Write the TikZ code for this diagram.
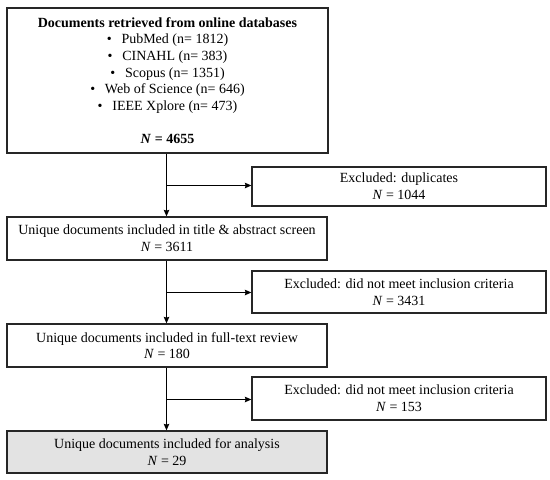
\documentclass[tikz,border=0pt]{standalone}
\usepackage{fontspec}
\setmainfont{Liberation Serif}
\usetikzlibrary{arrows.meta}
\begin{document}
\begin{tikzpicture}[x=1pt,y=-1pt,
  box/.style={draw=black!85, line width=1.3pt, align=center, inner sep=0pt,
    font=\fontsize{14}{16.6}\selectfont, minimum width=#1},
  box/.default=320pt,
  flow/.style={line width=1pt, -{Stealth[length=6.5pt,width=5.5pt,inset=0.8pt]}}]
\useasboundingbox (0,0) rectangle (550,480);
\newcommand{\bl}{\textbullet\hspace{0.7em}}
\node[box=321pt, minimum height=145pt] (src) at (167.5,80.5)
  {\textbf{Documents retrieved from online databases}\\
   \bl PubMed (n= 1812)\\
   \bl CINAHL (n= 383)\\
   \bl Scopus (n= 1351)\\
   \bl Web of Science (n= 646)\\
   \bl IEEE Xplore (n= 473)\\[16.6pt]
   \textbf{\textit{N} = 4655}};
\node[box=294pt, minimum height=39pt] (ex1) at (399,186.5)
  {Excluded: duplicates\\\textit{N} = 1044};
\node[box, minimum height=43pt] (ta) at (167,238.5)
  {Unique documents included in title \& abstract screen\\\textit{N} = 3611};
\node[box=294pt, minimum height=42pt] (ex2) at (399,292)
  {Excluded: did not meet inclusion criteria\\\textit{N} = 3431};
\node[box, minimum height=43pt] (ft) at (167,345.5)
  {Unique documents included in full-text review\\\textit{N} = 180};
\node[box=294pt, minimum height=43pt] (ex3) at (399,398.5)
  {Excluded: did not meet inclusion criteria\\\textit{N} = 153};
\node[box, minimum height=42pt, fill=black!11] (an) at (167,452)
  {Unique documents included for analysis\\\textit{N} = 29};
\coordinate (b1) at (166.5,185.5);
\coordinate (b2) at (166.5,292.5);
\coordinate (b3) at (166.5,399.5);
\draw[flow] (src.south -| b1) -- (ta.north -| b1);
\draw[flow] (b1) -- (ex1.west |- b1);
\draw[flow] (ta.south -| b2) -- (ft.north -| b2);
\draw[flow] (b2) -- (ex2.west |- b2);
\draw[flow] (ft.south -| b3) -- (an.north -| b3);
\draw[flow] (b3) -- (ex3.west |- b3);
\end{tikzpicture}
\end{document}
